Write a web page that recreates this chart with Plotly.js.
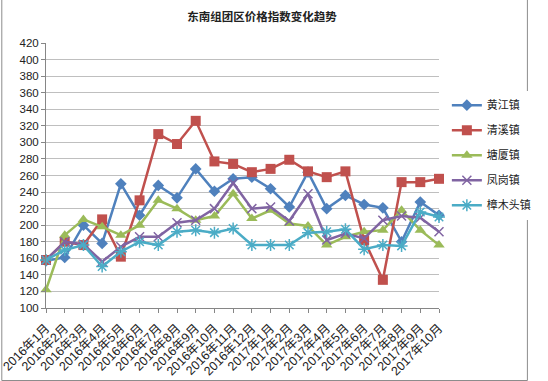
<!DOCTYPE html>
<html>
<head>
<meta charset="utf-8">
<script src="https://cdn.plot.ly/plotly-3.0.1.min.js"></script>
<style>
html,body{margin:0;padding:0;background:#fff;}
#chart{width:548px;height:381px;}
</style>
</head>
<body>
<div id="chart"></div>
<script>
const months = ["2016年1月","2016年2月","2016年3月","2016年4月","2016年5月","2016年6月","2016年7月","2016年8月","2016年9月","2016年10月","2016年11月","2016年12月","2017年1月","2017年2月","2017年3月","2017年4月","2017年5月","2017年6月","2017年7月","2017年8月","2017年9月","2017年10月"];
const huangjiang = [157,161,200,178,250,212,248,233,268,241,256,258,244,222,264,220,236,225,221,180,228,212];
const qingxi     = [158,180,176,207,162,230,310,298,326,277,274,264,268,279,265,258,265,182,134,252,252,256];
const tangxia    = [122,188,207,198,188,200,230,220,206,211,238,208,218,202,199,176,186,192,194,218,194,176];
const fenggang   = [158,180,177,156,174,186,186,203,206,220,251,220,222,205,238,182,190,184,206,211,209,192];
const zhangmutou = [158,170,176,150,168,180,176,192,194,191,196,176,176,176,191,192,195,171,176,175,216,210];
const seriesNames = ["黄江镇","清溪镇","塘厦镇","凤岗镇","樟木头镇"];

const colors = ["#4F81BD","#C0504D","#9BBB59","#8064A2","#4BACC6"];
const symbols = ["diamond","square","triangle-up","x-thin-open","asterisk-open"];
const sizes = [9,10,10,9,10];
const data = [huangjiang,qingxi,tangxia,fenggang,zhangmutou];

const traces = data.map((ys,i)=>({
  type:"scatter", mode:"lines+markers",
  x: months, y: ys, name: seriesNames[i],
  legendgroup: "g"+i,
  cliponaxis:false,
  line:{color:colors[i], width:2.5},
  marker:{symbol:symbols[i], size:sizes[i], color:colors[i],
          line:{color:colors[i], width:(i>=3?1.5:0)}}
}));

const font = "Liberation Sans, Noto Sans CJK SC, sans-serif";
const layout = {
  width:548, height:381,
  margin:{l:46, r:93, t:43, b:73},
  paper_bgcolor:"#fff", plot_bgcolor:"#fff",
  font:{family:font, size:11, color:"#333"},
  title:{text:"<b>东南组团区价格指数变化趋势</b>", x:0.478, xanchor:"center", y:0.955, yanchor:"middle",
         font:{family:"Noto Sans CJK SC, sans-serif", size:11.5, color:"#222"}},
  showlegend:true,
  legend:{x:1.02, xanchor:"left", y:0.82, yanchor:"top", traceorder:"grouped", tracegroupgap:6,
          font:{family:"Noto Sans CJK SC, sans-serif", size:11, color:"#222"}, itemwidth:30},
  xaxis:{type:"category", range:[0,21], tickangle:-45, showgrid:false,
         showline:true, linecolor:"#868686", linewidth:1,
         ticks:"outside", ticklen:4, tickcolor:"#868686", ticklabelstandoff:3,
         tickfont:{family:font, size:12.5, color:"#222"}, automargin:false},
  yaxis:{range:[100,420], dtick:20, showgrid:true, gridcolor:"#BFBFBF", gridwidth:1,
         showline:true, linecolor:"#868686", linewidth:1, zeroline:false,
         ticks:"outside", ticklen:4, tickcolor:"#868686",
         tickfont:{family:font, size:11.5, color:"#222"}, automargin:false},
  shapes:[{type:"rect", xref:"paper", yref:"paper", x0:-46/409, x1:(548-46-1)/409, y0:-72.5/265, y1:(381-43-0.5)/265,
           line:{color:"#8c8c8c", width:1}, fillcolor:"rgba(0,0,0,0)"}]
};
Plotly.newPlot("chart", traces, layout, {displayModeBar:false, staticPlot:true});
</script>
</body>
</html>
